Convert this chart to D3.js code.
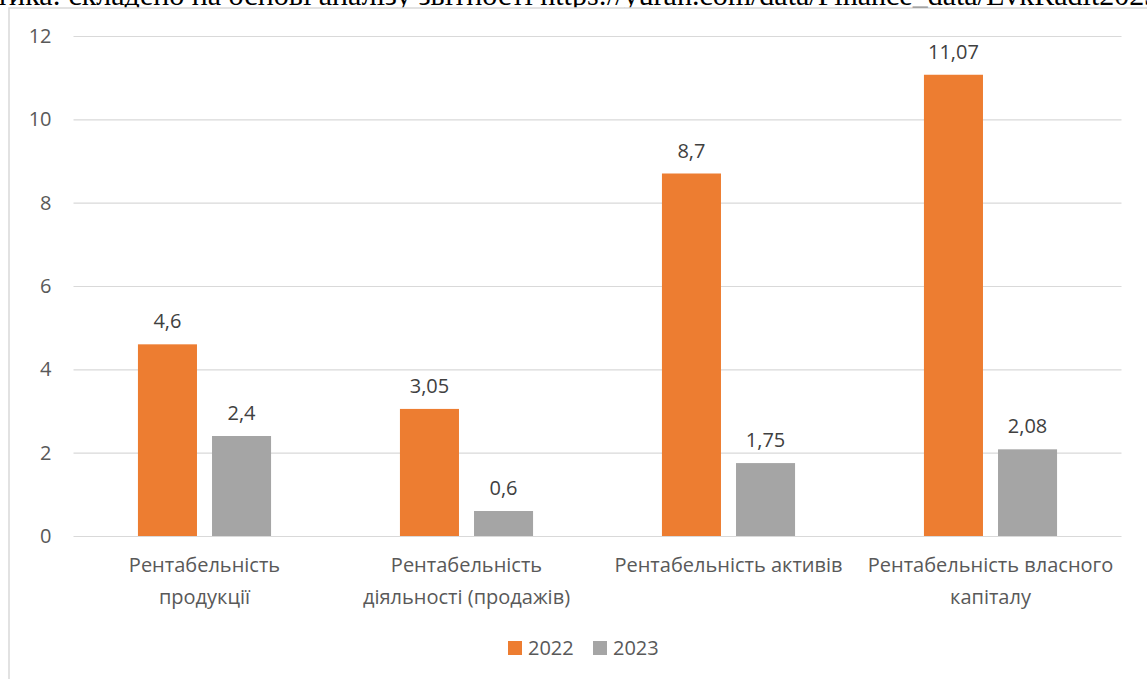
<!DOCTYPE html>
<meta charset="utf-8">
<body style="margin:0;background:#fff">
<script src="https://d3js.org/d3.v7.min.js"></script>
<script>
var width = 1147,
    height = 679;

// data
var categories = ["Рентабельність продукції", "Рентабельність діяльності (продажів)", "Рентабельність активів", "Рентабельність власного капіталу"];
var categoryLines = [["Рентабельність", "продукції"], ["Рентабельність", "діяльності (продажів)"], ["Рентабельність активів"], ["Рентабельність власного", "капіталу"]];
var series = ["2022", "2023"];
var values2022 = [4.6, 3.05, 8.7, 11.07];
var values2023 = [2.4, 0.6, 1.75, 2.08];
var yTicks = [0, 2, 4, 6, 8, 10, 12];
var colors = ["#ED7D31", "#A5A5A5"];
var sourceNote = "тика: складено на основі аналізу звітності https://yuran.com/data/Finance_data/EvkRadit2023";

var font = "'Open Sans', sans-serif";

var svg = d3.select("body").append("svg")
    .attr("width", width)
    .attr("height", height)
    .style("display", "block")
    .style("background", "#ffffff");

// clipped line of the page text above the chart
svg.append("text")
    .attr("x", -4)
    .attr("y", 5)
    .style("font-family", "'Liberation Serif', serif")
    .style("font-size", "30px")
    .attr("fill", "#000")
    .text(sourceNote);

// chart frame (runs off the right and bottom)
svg.append("rect")
    .attr("x", 9)
    .attr("y", 8)
    .attr("width", 1200)
    .attr("height", 700)
    .attr("fill", "#fff")
    .attr("stroke", "#d9d9d9")
    .attr("stroke-width", 1.5);

var x0 = d3.scaleBand().domain(categories).range([73.5, 1121.5]);
var x1 = d3.scaleBand().domain(series).range([0, x0.bandwidth()])
    .paddingInner(0.203).paddingOuter(0.87);
var y = d3.scaleLinear().domain([0, 12]).range([536, 36]);

var yAxis = svg.append("g")
    .attr("transform", "translate(73.5,0)")
    .call(d3.axisLeft(y).tickValues(yTicks).tickSize(-(1121.5 - 73.5)).tickPadding(22));
yAxis.select(".domain").remove();
yAxis.selectAll("line").attr("stroke", "#d9d9d9").attr("stroke-width", 1.2);
yAxis.selectAll("text")
    .style("font-family", font)
    .style("font-size", "20px")
    .attr("fill", "#595959");

var rows = categories.map(function(c, i) {
    return {cat: c, lines: categoryLines[i], vals: [values2022[i], values2023[i]]};
});

var groups = svg.selectAll(".grp").data(rows).enter().append("g")
    .attr("class", "grp")
    .attr("transform", function(d) { return "translate(" + x0(d.cat) + ",0)"; });

var bars = groups.selectAll(".bar").data(function(d) {
    return series.map(function(s, j) { return {s: s, v: d.vals[j], j: j}; });
}).enter();

bars.append("rect")
    .attr("x", function(d) { return x1(d.s); })
    .attr("y", function(d) { return y(d.v); })
    .attr("width", x1.bandwidth())
    .attr("height", function(d) { return y(0) - y(d.v); })
    .attr("fill", function(d) { return colors[d.j]; });

bars.append("text")
    .attr("x", function(d) { return x1(d.s) + x1.bandwidth() / 2; })
    .attr("y", function(d) { return y(d.v) - 16; })
    .attr("text-anchor", "middle")
    .style("font-family", font)
    .style("font-size", "20px")
    .attr("fill", "#404040")
    .text(function(d) { return String(d.v).replace(".", ","); });

var catText = groups.append("text")
    .attr("text-anchor", "middle")
    .style("font-family", font)
    .style("font-size", "20px")
    .attr("fill", "#595959");
catText.selectAll("tspan").data(function(d) { return d.lines; }).enter().append("tspan")
    .attr("x", x0.bandwidth() / 2)
    .attr("y", function(d, i) { return 572 + i * 32; })
    .text(function(d) { return d; });

// legend
var legend = svg.selectAll(".leg").data(series).enter().append("g")
    .attr("class", "leg")
    .attr("transform", function(d, i) { return "translate(" + (508 + i * 85) + ",641)"; });
legend.append("rect")
    .attr("width", 14)
    .attr("height", 14)
    .attr("fill", function(d, i) { return colors[i]; });
legend.append("text")
    .attr("x", 20)
    .attr("y", 14)
    .style("font-family", font)
    .style("font-size", "20px")
    .attr("fill", "#595959")
    .text(function(d) { return d; });
</script>
